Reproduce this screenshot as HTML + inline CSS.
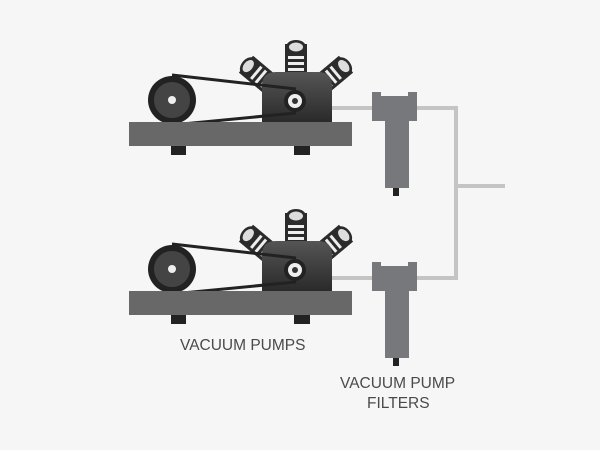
<!DOCTYPE html>
<html><head><style>
html,body{margin:0;padding:0;background:#f6f6f6;}
svg{display:block}
text{font-family:"Liberation Sans",Arial,sans-serif;fill:#4a4a4a;font-size:15.5px;}
</style></head><body>
<svg width="600" height="450" viewBox="0 0 600 450">
<defs>
<linearGradient id="mg" x1="0" y1="0" x2="0" y2="1">
<stop offset="0" stop-color="#555"/><stop offset="1" stop-color="#2a2a2a"/>
</linearGradient>
<g id="cyl">
<rect x="-11" y="-34" width="22" height="34" fill="#2b2b2b"/>
<rect x="-8" y="-22" width="16" height="3" fill="#eee"/>
<rect x="-8" y="-16" width="16" height="3" fill="#eee"/>
<rect x="-8" y="-10" width="16" height="3" fill="#eee"/>
<ellipse cx="0" cy="-31" rx="10" ry="7" fill="#2b2b2b"/>
<ellipse cx="0" cy="-31" rx="7" ry="4.5" fill="#ddd"/>
</g>
<g id="pump">
<g transform="translate(272,86) rotate(-50)"><use href="#cyl"/></g>
<g transform="translate(296,78)"><use href="#cyl"/></g>
<g transform="translate(320,86) rotate(50)"><use href="#cyl"/></g>
<path d="M262,122 V86 Q262,72 276,72 H318 Q332,72 332,86 V122 Z" fill="url(#mg)"/>
<path d="M172,75 L296,89 M172,125 L296,113" stroke="#222" stroke-width="3"/>
<circle cx="172" cy="100" r="24" fill="#222"/>
<circle cx="172" cy="100" r="19" fill="#444" stroke="#222" stroke-width="2"/>
<circle cx="172" cy="100" r="4" fill="#eee"/>
<circle cx="295" cy="101" r="11" fill="#222"/>
<circle cx="295" cy="101" r="7" fill="#eee"/>
<circle cx="295" cy="101" r="3" fill="#333"/>
<rect x="129" y="122" width="223" height="24" fill="#686868"/>
<rect x="171" y="146" width="15" height="9" fill="#222"/>
<rect x="294" y="146" width="16" height="9" fill="#222"/>
</g>
<g id="filter">
<path d="M372,92 H381 V96 H408 V92 H417 V121 H409 V188 H385 V121 H372 Z" fill="#77787c"/>
<rect x="393" y="188" width="6" height="8" fill="#222"/>
</g>
</defs>
<g stroke="#c4c4c4" stroke-width="4" fill="none">
<path d="M332,108 H372"/>
<path d="M417,108 H456 V278 H417"/>
<path d="M332,278 H372"/>
<path d="M456,186 H505"/>
</g>
<use href="#pump"/>
<use href="#pump" transform="translate(0,169)"/>
<use href="#filter"/>
<use href="#filter" transform="translate(0,170)"/>
<text x="180" y="350">VACUUM PUMPS</text>
<text x="340" y="388">VACUUM PUMP</text>
<text x="367" y="408">FILTERS</text>
</svg>
</body></html>
